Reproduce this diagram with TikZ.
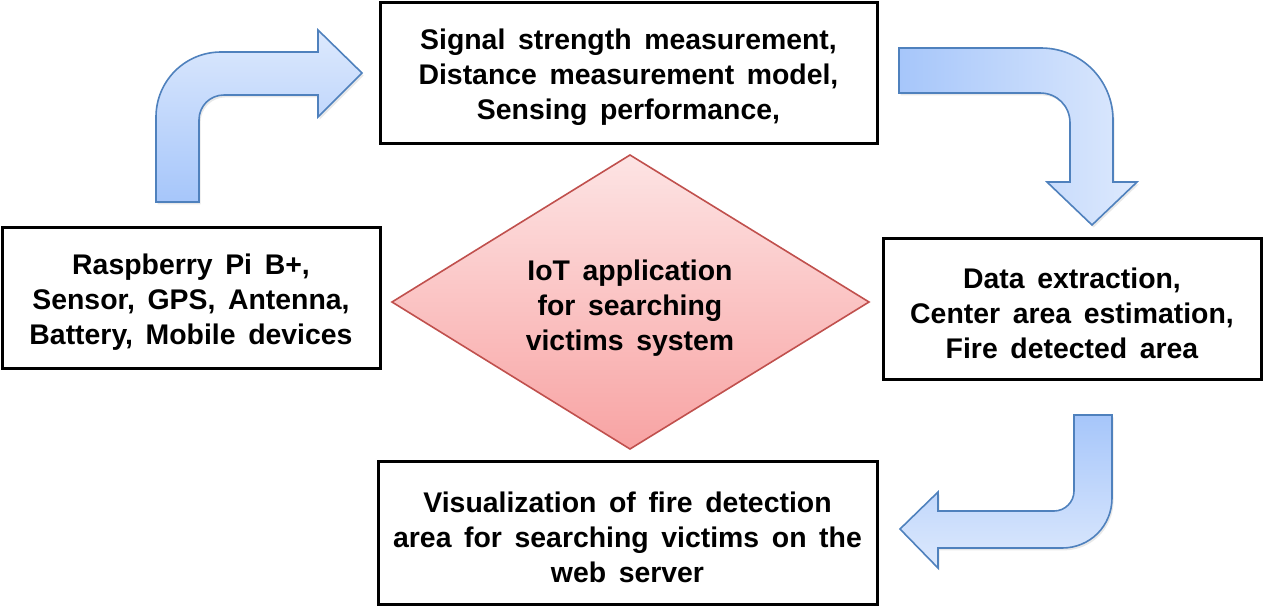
\documentclass[tikz,border=0pt]{standalone}
\usepackage{fontspec}
\setmainfont{Liberation Sans}[WordSpace=1.6]
\usetikzlibrary{shadows}
\definecolor{arrowline}{HTML}{4F81BD}
\definecolor{arrowdark}{HTML}{A6C6FA}
\definecolor{arrowlight}{HTML}{DDE9FD}
\definecolor{dialine}{HTML}{C0504D}
\definecolor{diatop}{HTML}{FDE4E4}
\definecolor{diabot}{HTML}{F8A3A3}
\tikzset{
  box/.style={draw=black, line width=1.5pt, fill=white, inner sep=0pt},
  txt/.style={align=center, inner sep=0pt, font=\fontsize{14.2}{17.5}\selectfont\bfseries},
  bentarrow/.style={draw=arrowline, line width=0.8pt, line join=miter,
    drop shadow={opacity=0.18, shadow xshift=0.8pt, shadow yshift=-1.2pt}},
}
\begin{document}
\begin{tikzpicture}[x=0.5pt,y=-0.5pt]
\useasboundingbox (0,0) rectangle (1264,606);
% boxes
\node[box, minimum width=248.5pt, minimum height=70.5pt] (top) at (628.5,72.5) {};
\node[txt] (toptext) at ([yshift=-2.5pt]top.center)
  {Signal strength measurement,\\Distance measurement model,\\Sensing performance,};
\node[box, minimum width=189pt, minimum height=70.5pt] (left) at (191,297.5) {};
\node[txt] (lefttext) at ([yshift=-2.5pt]left.center)
  {Raspberry Pi B+,\\Sensor, GPS, Antenna,\\Battery, Mobile devices};
\node[box, minimum width=189pt, minimum height=70.5pt] (right) at (1072,308.5) {};
\node[txt] (righttext) at ([yshift=-2.5pt]right.center)
  {Data extraction,\\Center area estimation,\\Fire detected area};
\node[box, minimum width=249.5pt, minimum height=71.5pt] (bottom) at (627.5,532.5) {};
\node[txt] (bottomtext) at ([yshift=-2.5pt]bottom.center)
  {Visualization of fire detection\\area for searching victims on the\\web server};
% diamond
\coordinate (dl) at (392,302);
\coordinate (dt) at (630,155);
\coordinate (dr) at (869,302);
\coordinate (db) at (630,449);
\draw[draw=dialine, line width=0.8pt, top color=diatop, bottom color=diabot]
  (dl) -- (dt) -- (dr) -- (db) -- cycle;
\node[txt] (center) at (630,308) {IoT application\\for searching\\victims system};
% arrow 1: up then right
\draw[bentarrow, top color=arrowlight, bottom color=arrowdark]
  (156,202) -- (156,117) .. controls (156,81) and (185,52) .. (221,52) -- (318,52)
  -- (318,30) -- (362,73) -- (318,117) -- (318,95) -- (224,95)
  .. controls (210,95) and (199,106) .. (199,120) -- (199,202) -- cycle;
% arrow 2: right then down
\draw[bentarrow, left color=arrowdark, right color=arrowlight]
  (899,48) -- (1041,48) .. controls (1081,48) and (1113,80) .. (1113,120)
  -- (1113,182) -- (1137,182) -- (1092,225) -- (1047,182) -- (1070,182)
  -- (1070,123) .. controls (1070,106) and (1057,93) .. (1040,93) -- (899,93) -- cycle;
% arrow 3: down then left
\draw[bentarrow, top color=arrowdark, bottom color=arrowlight]
  (1074,415) -- (1112,415) -- (1112,498) .. controls (1112,526) and (1090,548) .. (1062,548)
  -- (938,548) -- (938,568) -- (900,529) -- (938,492) -- (938,511) -- (1054,511)
  .. controls (1065,511) and (1074,502) .. (1074,491) -- cycle;
\end{tikzpicture}
\end{document}
